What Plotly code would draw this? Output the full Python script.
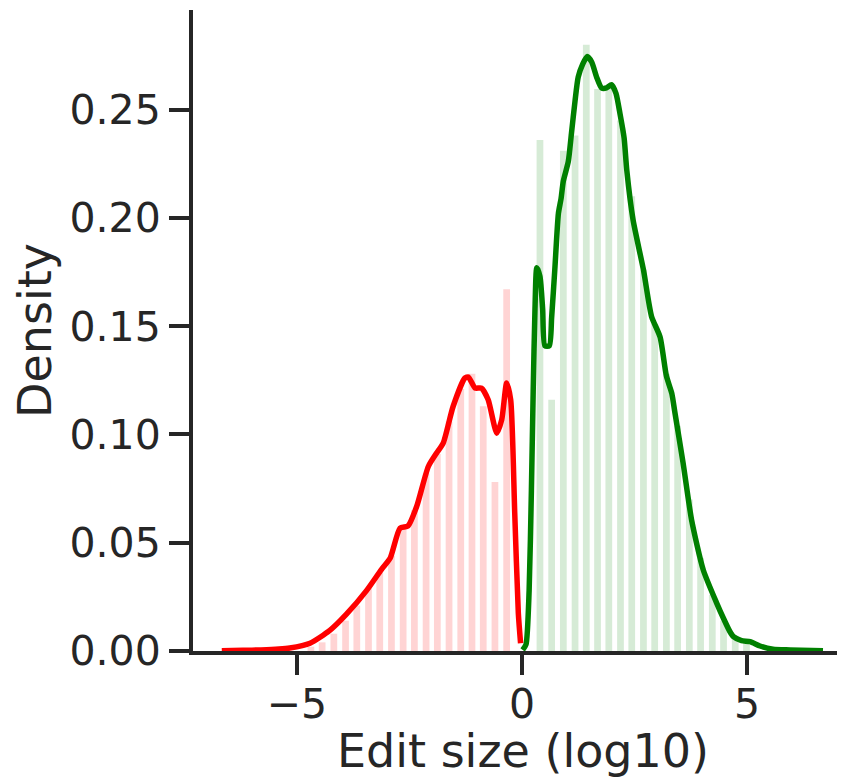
import plotly.graph_objects as go

# Histogram bars (bin centers and densities)
neg_bin_centers = [-4.69, -4.44, -4.18, -3.92, -3.67, -3.41, -3.16, -2.90, -2.64, -2.39,
                   -2.13, -1.88, -1.62, -1.36, -1.11, -0.86, -0.60, -0.34]
neg_bin_density = [0.002, 0.004, 0.008, 0.014, 0.021, 0.029, 0.036, 0.044, 0.058, 0.065,
                   0.082, 0.091, 0.106, 0.121, 0.128, 0.113, 0.078, 0.167]

pos_bin_centers = [0.40, 0.66, 0.92, 1.18, 1.43, 1.68, 1.93, 2.19, 2.44, 2.70,
                   2.95, 3.21, 3.46, 3.72, 3.97, 4.23, 4.48, 4.74, 4.99]
pos_bin_density = [0.236, 0.116, 0.231, 0.238, 0.280, 0.2595, 0.261, 0.245, 0.210, 0.176,
                   0.151, 0.128, 0.104, 0.070, 0.043, 0.026, 0.014, 0.007, 0.004]

# KDE curves
neg_kde_x = [-6.67, -6.2, -5.8, -5.4, -5.16, -4.71, -4.27, -3.90, -3.45, -3.12, -2.93, -2.71,
             -2.53, -2.34, -2.08, -1.90, -1.75, -1.53, -1.27, -1.19, -1.04, -0.90, -0.75,
             -0.56, -0.45, -0.34, -0.25, -0.16, -0.08, -0.03]
neg_kde_y = [0.0001, 0.0003, 0.0005, 0.0009, 0.0014, 0.0036, 0.0095, 0.0170, 0.028, 0.0377,
             0.0428, 0.0567, 0.0578, 0.0667, 0.0852, 0.0913, 0.096, 0.1129, 0.126, 0.1265,
             0.1214, 0.1214, 0.116, 0.1006, 0.1067, 0.1237, 0.116, 0.0636, 0.0174, 0.0036]

pos_kde_x = [0.015, 0.09, 0.16, 0.21, 0.25, 0.29, 0.33, 0.40, 0.46, 0.51, 0.61, 0.66, 0.73,
             0.81, 0.87, 0.92, 1.03, 1.10, 1.18, 1.25, 1.35, 1.45, 1.55, 1.66, 1.77, 1.88,
             1.99, 2.09, 2.18, 2.27, 2.33, 2.47, 2.70, 2.88, 3.07, 3.21, 3.33, 3.40, 3.58,
             3.77, 4.03, 4.33, 4.48, 4.62, 4.70, 4.88, 5.07, 5.29, 5.58, 5.96, 6.69]
pos_kde_y = [0.0005, 0.003, 0.028, 0.074, 0.120, 0.158, 0.177, 0.173, 0.158, 0.141, 0.141,
             0.154, 0.176, 0.202, 0.209, 0.217, 0.226, 0.239, 0.254, 0.265, 0.271, 0.2745,
             0.272, 0.265, 0.260, 0.260, 0.2615, 0.2575, 0.248, 0.237, 0.222, 0.199, 0.176,
             0.1545, 0.145, 0.127, 0.119, 0.110, 0.087, 0.0605, 0.0374, 0.022, 0.015, 0.0090,
             0.0066, 0.0048, 0.0043, 0.0023, 0.0008, 0.0005, 0.0001]

y_tick_vals = [0.0, 0.05, 0.10, 0.15, 0.20, 0.25]
x_tick_vals = [-5, 0, 5]

INK = "#262626"
FONT = "DejaVu Sans"

fig = go.Figure()
fig.add_trace(go.Bar(x=neg_bin_centers, y=neg_bin_density, width=0.15,
                     marker=dict(color="rgba(255,0,0,0.17)", line=dict(width=0)),
                     showlegend=False))
fig.add_trace(go.Bar(x=pos_bin_centers, y=pos_bin_density, width=0.15,
                     marker=dict(color="rgba(0,128,0,0.16)", line=dict(width=0)),
                     showlegend=False))
fig.add_trace(go.Scatter(x=neg_kde_x, y=neg_kde_y, mode="lines",
                         line=dict(color="#ff0000", width=5.5, shape="spline", smoothing=0.6),
                         showlegend=False))
fig.add_trace(go.Scatter(x=pos_kde_x, y=pos_kde_y, mode="lines",
                         line=dict(color="#008000", width=5.5, shape="spline", smoothing=0.6),
                         showlegend=False))

fig.update_layout(
    width=845, height=770,
    margin=dict(l=185, r=0, t=2, b=127),
    plot_bgcolor="white", paper_bgcolor="white",
    barmode="overlay",
    font=dict(family=FONT, color=INK, size=41),
    xaxis=dict(range=[-7.31, 7.357], tickvals=x_tick_vals, ticks="outside", ticklen=20,
               tickwidth=4, tickcolor=INK, showline=True, linecolor=INK, linewidth=4,
               showgrid=False, zeroline=False, tickfont=dict(size=41, color=INK),
               ticklabelstandoff=-6,
               title=dict(text="Edit size (log10)", font=dict(size=46, color=INK), standoff=8)),
    yaxis=dict(range=[0, 0.296], tickvals=y_tick_vals, tickformat=".2f", ticks="outside",
               ticklen=20, tickwidth=4, tickcolor=INK, showline=True, linecolor=INK,
               linewidth=4, showgrid=False, zeroline=False, tickfont=dict(size=41, color=INK),
               title=dict(text="Density", font=dict(size=46, color=INK), standoff=5)),
)

fig.write_html("out.html")
